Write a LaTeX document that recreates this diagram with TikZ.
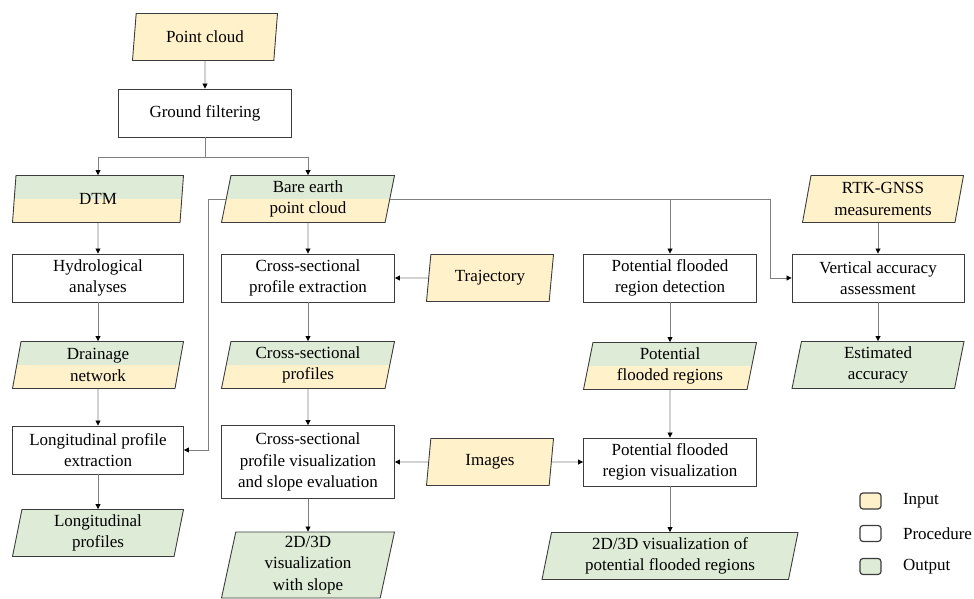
\documentclass[tikz,border=0pt]{standalone}
\usepackage{fontspec}
\setmainfont{Liberation Serif}
\usetikzlibrary{arrows.meta, positioning, shapes.geometric, calc}
\definecolor{cin}{HTML}{FFF1C9}
\definecolor{cout}{HTML}{DEEBD6}
\definecolor{cedge}{HTML}{3C3C3C}
\definecolor{cline}{HTML}{7F7F7F}
\tikzset{
  every picture/.style={line width=0.9pt},
  proc/.style={draw=cedge, fill=white, align=center, minimum width=173pt, minimum height=48pt, inner sep=2pt},
  data/.style={trapezium, trapezium left angle=77, trapezium right angle=103, trapezium stretches body,
    draw=cedge, fill=#1, align=center, minimum width=171pt, minimum height=47pt, inner sep=2pt},
  data/.default=cin,
  both/.style={data=cin, path picture={\fill[cout] (path picture bounding box.north west) rectangle (path picture bounding box.east);}},
  arrow/.style={draw=cline, line width=0.8pt, -{Triangle[length=5pt, width=5pt, color=black]}},
  swatch/.style={draw=cedge, fill=#1, rounded corners=3pt, minimum width=21pt, minimum height=16pt, line width=1.2pt},
}

\begin{document}
\begin{tikzpicture}[x=1pt, y=-1pt, every node/.style={font=\fontsize{17}{21.5}\selectfont},
  lbl/.style={anchor=west, inner sep=0pt}]
  \useasboundingbox (0,0) rectangle (974,599);
  % column 1 and 2
  \node[data, minimum width=145pt] (pc) at (205,37) {Point cloud};
  \node[proc] (gf) at (205,113) {Ground filtering};
  \node[both] (dtm) at (98,199) {DTM};
  \node[both, minimum width=173pt] (bare) at (308,199) {Bare earth\\point cloud};
  \node[proc, minimum width=171pt] (hyd) at (98,278) {Hydrological\\analyses};
  \node[proc] (cpe) at (308,278) {Cross-sectional\\profile extraction};
  \node[both] (drain) at (98,365) {Drainage\\network};
  \node[both, minimum width=173pt] (cprof) at (308,365) {Cross-sectional\\profiles};
  \node[proc, minimum width=171pt] (lpe) at (98,450) {Longitudinal profile\\extraction};
  \node[proc, minimum height=73pt] (cvis) at (308,462) {Cross-sectional\\profile visualization\\and slope evaluation};
  \node[data=cout] (lprof) at (98,533) {Longitudinal\\profiles};
  \node[data=cout, minimum width=173pt, minimum height=66pt] (slope) at (308,565) {2D/3D\\visualization\\with slope};
  % inputs in the middle
  \node[data, minimum width=127pt] (traj) at (490,278) {Trajectory};
  \node[data, minimum width=127pt] (img) at (490,462) {Images};
  % column 3 and 4
  \node[proc] (fdet) at (670,278) {Potential flooded\\region detection};
  \node[both, minimum width=173pt] (freg) at (670,366) {Potential\\flooded regions};
  \node[proc] (fvis) at (670,462) {Potential flooded\\region visualization};
  \node[data=cout, minimum width=256pt] (fout) at (670,556) {2D/3D visualization of\\potential flooded regions};
  \node[data, minimum width=161pt] (rtk) at (883,199) {RTK-GNSS\\measurements};
  \node[proc, minimum width=172pt] (vacc) at (878,278) {Vertical accuracy\\assessment};
  \node[data=cout, minimum width=172pt] (acc) at (878,365) {Estimated\\accuracy};
  % legend
  \node[swatch=cin] (kin) at (870.5,501) {};
  \node[swatch=white] (kproc) at (870.5,533.5) {};
  \node[swatch=cout] (kout) at (870.5,566.5) {};
  \node[lbl, right=21pt of kin] (tin) {Input};
  \node[lbl, right=21pt of kproc] (tproc) {Procedure};
  \node[lbl, right=21pt of kout] (tout) {Output};

  \draw[arrow] (pc) -- (gf);
  \draw[arrow] (gf.south) -- ++(0,20) -| (dtm.north);
  \draw[arrow] (gf.south) -- ++(0,20) -| (bare.north);
  \draw[arrow] (dtm) -- (hyd); \draw[arrow] (hyd) -- (drain);
  \draw[arrow] (drain) -- (lpe); \draw[arrow] (lpe) -- (lprof);
  \draw[arrow] (bare) -- (cpe); \draw[arrow] (cpe) -- (cprof);
  \draw[arrow] (cprof) -- (cvis); \draw[arrow] (cvis) -- (slope);
  \draw[arrow] (traj) -- (cpe);
  \draw[arrow] (img) -- (cvis); \draw[arrow] (img) -- (fvis);
  \draw[arrow] (bare.west) -| ($(lpe.east)+(24,0)$) -- (lpe.east);
  \draw[arrow] (bare.east) -| ($(vacc.west)+(-21,0)$) -- (vacc.west);
  \draw[arrow] (bare.east -| fdet.north) -- (fdet.north);
  \draw[arrow] (fdet) -- (freg); \draw[arrow] (freg) -- (fvis); \draw[arrow] (fvis) -- (fout);
  \draw[arrow] (rtk.south -| vacc.north) -- (vacc.north); \draw[arrow] (vacc) -- (acc);
\end{tikzpicture}
\end{document}
